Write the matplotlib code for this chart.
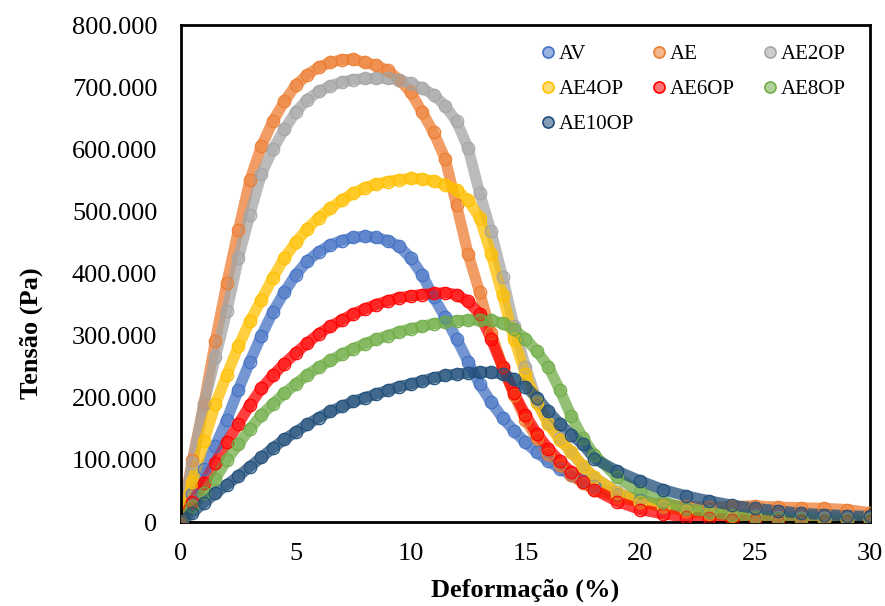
import matplotlib.pyplot as plt
from matplotlib.ticker import FuncFormatter
from matplotlib.colors import to_rgba

plt.rcParams['font.family'] = ['Liberation Serif', 'DejaVu Serif']

deformacao = [0, 0.5, 1, 1.5, 2, 2.5, 3, 3.5, 4, 4.5, 5, 5.5, 6, 6.5, 7, 7.5,
              8, 8.5, 9, 9.5, 10, 10.5, 11, 11.5, 12, 12.5, 13, 13.5, 14, 14.5,
              15, 15.5, 16, 16.5, 17, 17.5, 18, 19, 20, 21, 22, 23, 24, 25, 26,
              27, 28, 29, 30]

# Stress (Pa) for each sample
av = [0, 45, 85, 123, 165, 213, 258, 300, 338, 370, 398, 420, 435, 446, 453,
      458, 460, 458, 453, 444, 425, 398, 362, 330, 295, 258, 222, 193, 168, 147,
      128, 112, 98, 86, 75, 66, 58, 45, 35, 27, 21, 17, 13, 11, 9, 8, 7, 6, 6]
ae = [0, 100, 190, 292, 385, 470, 550, 605, 645, 677, 703, 720, 732, 740, 744,
      745, 740, 735, 727, 712, 692, 660, 627, 585, 510, 432, 370, 305, 250, 205,
      165, 135, 110, 92, 75, 63, 52, 40, 32, 28, 25, 24, 25, 26, 24, 23, 22, 20, 15]
ae2op = [0, 95, 190, 265, 340, 425, 495, 560, 600, 632, 660, 680, 693, 702, 708,
         712, 714, 714, 714, 712, 706, 698, 688, 670, 645, 602, 530, 468, 395, 315,
         250, 195, 160, 135, 112, 90, 72, 48, 33, 24, 18, 14, 11, 9, 8, 7, 6, 5, 5]
ae4op = [0, 65, 130, 190, 237, 283, 323, 358, 393, 425, 450, 472, 490, 505, 518,
         529, 538, 544, 548, 551, 553, 552, 549, 543, 535, 518, 490, 432, 365, 295,
         238, 192, 157, 132, 113, 90, 72, 47, 33, 25, 18, 13, 10, 8, 6, 5, 4, 3, 3]
ae6op = [0, 32, 63, 95, 128, 158, 188, 215, 236, 255, 272, 288, 303, 315, 325,
         335, 343, 350, 356, 361, 364, 366, 368, 369, 366, 355, 335, 295, 250, 208,
         172, 142, 118, 98, 80, 65, 52, 33, 20, 13, 8, 6, 4, 3, 2, 2, 1, 1, 1]
ae8op = [0, 25, 47, 70, 100, 125, 150, 172, 190, 207, 222, 237, 249, 260, 270,
         279, 287, 294, 300, 306, 311, 315, 319, 322, 324, 325, 325, 325, 320, 310,
         295, 275, 250, 212, 170, 135, 108, 72, 48, 33, 22, 16, 11, 8, 6, 5, 4, 3, 3]
ae10op = [0, 15, 31, 46, 60, 74, 89, 104, 119, 133, 145, 157, 168, 178, 186,
          194, 200, 206, 212, 218, 222, 227, 232, 236, 238, 240, 241, 241, 238, 230,
          218, 200, 178, 158, 140, 125, 102, 82, 66, 52, 42, 34, 27, 22, 18, 14, 12, 10, 9]

nomes = ['AV', 'AE', 'AE2OP', 'AE4OP', 'AE6OP', 'AE8OP', 'AE10OP']
series = [av, ae, ae2op, ae4op, ae6op, ae8op, ae10op]
cores = ['#4472C4', '#ED7D31', '#A5A5A5', '#FFC000', '#FF0000', '#70AD47', '#1F4E79']

fig, ax = plt.subplots(figsize=(8.85, 6.06), dpi=100)
fig.subplots_adjust(left=0.2045, right=0.983, bottom=0.1386, top=0.9587)

handles = []
for nome, valores, cor in zip(nomes, series, cores):
    # thick band behind the markers, like the dense Excel markers
    ax.plot(deformacao, valores, '-', color=cor, lw=8, alpha=0.75,
            solid_capstyle='round', zorder=2)
    ax.plot(deformacao, valores, 'o', ms=9, mfc=to_rgba(cor, 0.4), mec=cor,
            mew=0.8, zorder=3)
    h, = ax.plot([], [], 'o', ms=8, mfc=to_rgba(cor, 0.55), mec=cor, mew=1.2,
                 label=nome)
    handles.append(h)

ax.set_xlim(0, 30)
ax.set_ylim(0, 800)
ax.set_xticks(range(0, 31, 5))
ax.set_yticks(range(0, 801, 100))
ax.yaxis.set_major_formatter(FuncFormatter(lambda v, p: '0' if v == 0 else f'{v:.3f}'))
ax.tick_params(length=0, labelsize=19)
ax.tick_params(axis='y', pad=17)
ax.tick_params(axis='x', pad=15)

for s in ax.spines.values():
    s.set_linewidth(2)

ax.set_xlabel('Deformação (%)', fontsize=19, fontweight='bold')
ax.set_ylabel('Tensão (Pa)', fontsize=19, fontweight='bold')
ax.xaxis.set_label_coords(0.5, -0.113)
ax.yaxis.set_label_coords(-0.2, 0.38)

# legend with equal-width columns, filled row by row
colunas = [[0, 3, 6], [1, 4], [2, 5]]
x_col = [531.8, 642.8, 753.8]
for idx, xc in zip(colunas, x_col):
    fig.legend([handles[i] for i in idx], [nomes[i] for i in idx],
               loc='upper left', bbox_to_anchor=(xc / 885, 1 - 34 / 606),
               ncol=1, frameon=False, fontsize=15, borderpad=0,
               handlelength=0.6, handletextpad=0.2, labelspacing=0.75)

plt.savefig('out.png', dpi=100)
